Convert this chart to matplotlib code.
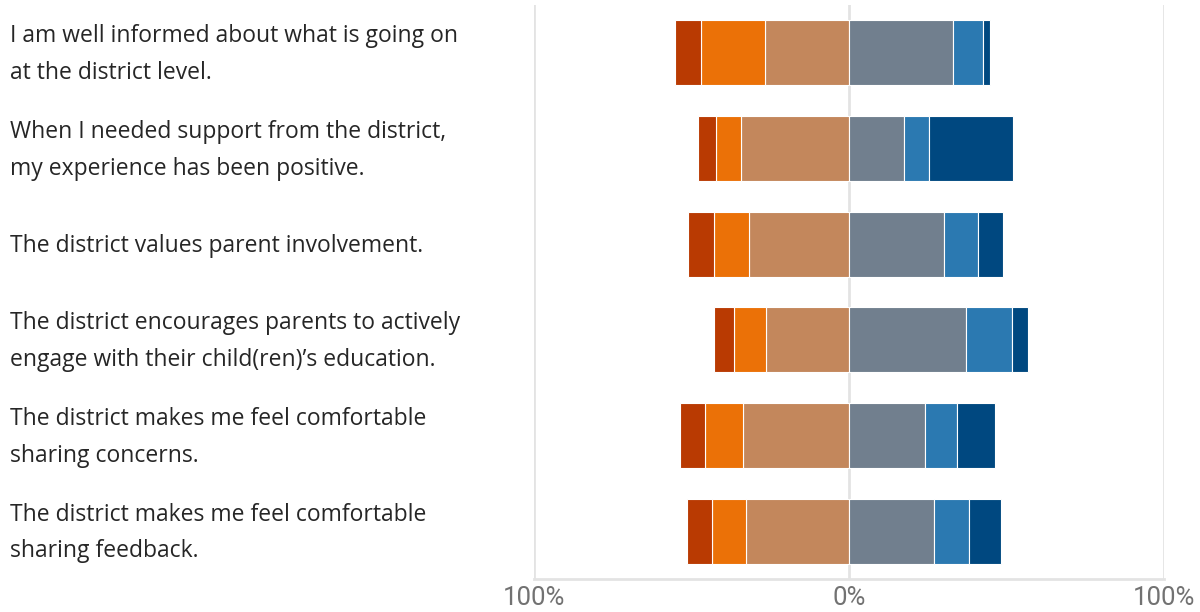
import numpy as np
import matplotlib.pyplot as plt
from matplotlib.transforms import blended_transform_factory

statements = [
    "I am well informed about what is going on\nat the district level.",
    "When I needed support from the district,\nmy experience has been positive.",
    "The district values parent involvement.",
    "The district encourages parents to actively\nengage with their child(ren)\u2019s education.",
    "The district makes me feel comfortable\nsharing concerns.",
    "The district makes me feel comfortable\nsharing feedback.",
]

# percentages per response level, one value per statement
strongly_disagree = [8.2, 5.9, 8.2, 6.6, 8.1, 7.9]
disagree = [20.3, 7.7, 11.1, 9.9, 11.8, 10.8]
slightly_disagree = [26.6, 34.4, 31.7, 26.5, 33.8, 32.7]
slightly_agree = [33.0, 17.5, 30.1, 37.1, 24.1, 27.0]
agree = [9.5, 7.9, 11.0, 14.6, 10.1, 11.0]
strongly_agree = [2.2, 26.6, 7.7, 5.1, 12.1, 10.4]

col_sd = "#B93A02"
col_d = "#EB7107"
col_sld = "#C3875C"
col_sla = "#717F8E"
col_a = "#2B79B1"
col_sa = "#004880"

fig = plt.figure(figsize=(12, 6.12), dpi=100)
ax = fig.add_axes([0.445, 0.054, 0.525, 0.9379])

y = np.arange(len(statements))
h = 0.68

sld = np.array(slightly_disagree)
d = np.array(disagree)
sd = np.array(strongly_disagree)
sla = np.array(slightly_agree)
a = np.array(agree)
sa = np.array(strongly_agree)

kw = dict(height=h, edgecolor="white", linewidth=0.8, zorder=3)
# negative side, stacked outward from zero
ax.barh(y, -sld, left=0, color=col_sld, **kw)
ax.barh(y, -d, left=-sld, color=col_d, **kw)
ax.barh(y, -sd, left=-(sld + d), color=col_sd, **kw)
# positive side
ax.barh(y, sla, left=0, color=col_sla, **kw)
ax.barh(y, a, left=sla, color=col_a, **kw)
ax.barh(y, sa, left=sla + a, color=col_sa, **kw)

ax.set_xlim(-100, 100)
ax.set_ylim(len(statements) - 0.5, -0.5)

for xv in [-100, 0, 100]:
    ax.axvline(xv, color="#E3E3E3", linewidth=2, zorder=1)

for s in ["top", "left", "right"]:
    ax.spines[s].set_visible(False)
ax.spines["bottom"].set_color("#E3E3E3")
ax.spines["bottom"].set_linewidth(2)

ax.set_yticks([])
ax.set_xticks([-100, 0, 100])
ax.set_xticklabels(["100%", "0%", "100%"])
ax.tick_params(axis="x", length=0, pad=5, labelsize=18.5, labelcolor="#727272")
for lbl in ax.get_xticklabels():
    lbl.set_family(["Roboto", "DejaVu Sans"])

trans = blended_transform_factory(fig.transFigure, ax.transData)
for yi, txt in zip(y, statements):
    ax.text(10 / 1200, yi + 0.02, txt, transform=trans, ha="left", va="center",
            fontsize=16.5, color="#262626", family="Open Sans", linespacing=1.7)

fig.savefig("out.png", dpi=100)
